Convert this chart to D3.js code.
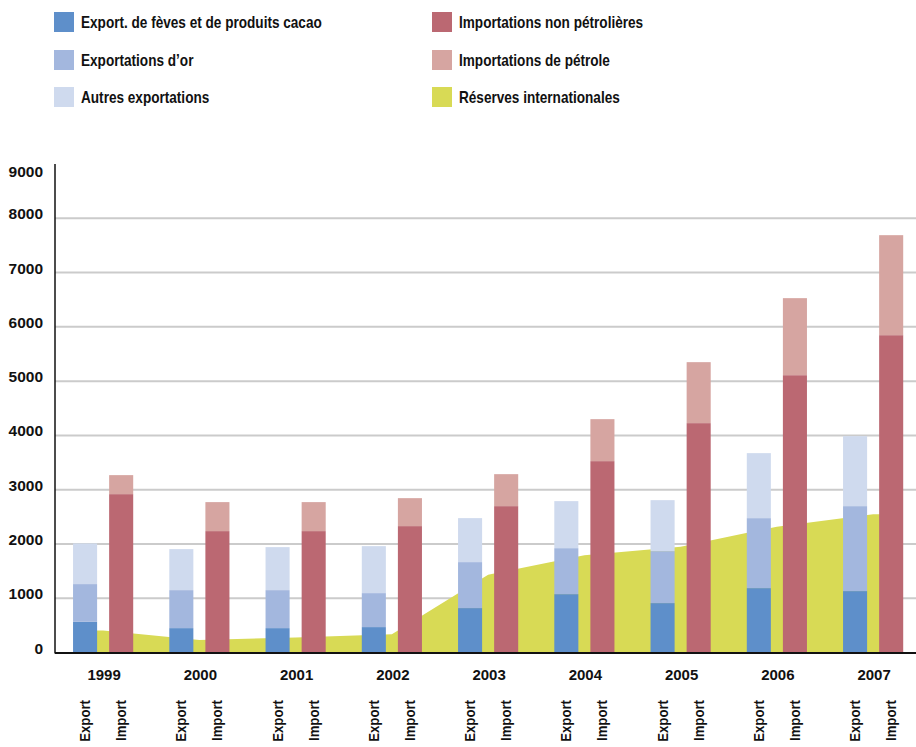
<!DOCTYPE html>
<html>
<head>
<meta charset="utf-8">
<script src="https://cdn.jsdelivr.net/npm/d3@7"></script>
<style>
  body { margin: 0; background: #fff; }
  svg { display: block; }
  .num, .lbl { font-family: "Liberation Sans", Arial, sans-serif; font-weight: bold; fill: #111; }
</style>
</head>
<body>
<svg id="chart" width="916" height="747"></svg>
<script>
const years = ["1999", "2000", "2001", "2002", "2003", "2004", "2005", "2006", "2007"];
const flows = ["Export", "Import"];
const cacaoExports = [567, 451, 451, 470, 820, 1077, 912, 1188, 1133];
const goldExports = [695, 700, 700, 626, 847, 847, 957, 1289, 1565];
const otherExports = [749, 755, 792, 865, 810, 866, 939, 1197, 1289];
const nonOilImports = [2919, 2238, 2238, 2330, 2698, 3527, 4227, 5110, 5847];
const oilImports = [350, 534, 534, 515, 589, 773, 1123, 1419, 1842];
const reserves = [405, 230, 280, 337, 1435, 1795, 1952, 2320, 2550];
const yTicks = [0, 1000, 2000, 3000, 4000, 5000, 6000, 7000, 8000, 9000];

const legendItems = [
  { label: "Export. de fèves et de produits cacao", color: "#5e8fca" },
  { label: "Exportations d\u2019or", color: "#a3b7de" },
  { label: "Autres exportations", color: "#cfdaee" },
  { label: "Importations non pétrolières", color: "#bb6872" },
  { label: "Importations de pétrole", color: "#d6a5a1" },
  { label: "Réserves internationales", color: "#d8da55" },
];

(function () {
  const svg = d3.select("#chart");
  const left = 55;
  const step = 96.25;
  const top = 164;
  const bottom = 652.6;
  const narrow = 0.85; // the original face is a condensed one

  const x = d3.scaleBand()
    .domain(years)
    .range([left, left + step * years.length]);

  const xFlow = d3.scaleBand()
    .domain(flows)
    .range([0, x.bandwidth()])
    .paddingInner(1 / 3)
    .paddingOuter(0.5);

  const y = d3.scaleLinear()
    .domain([0, 9000])
    .range([bottom, top]);

  const rows = years.map((yr, i) => ({
    year: yr,
    cacao: cacaoExports[i],
    gold: goldExports[i],
    other: otherExports[i],
    nonOil: nonOilImports[i],
    oil: oilImports[i],
    reserves: reserves[i],
  }));

  // gridlines
  svg.append("g")
    .selectAll("line")
    .data(yTicks.filter((t) => t > 0 && t < 9000))
    .enter()
    .append("line")
    .attr("x1", left)
    .attr("x2", 916)
    .attr("y1", (d) => y(d))
    .attr("y2", (d) => y(d))
    .attr("stroke", "#cbcbcb")
    .attr("stroke-width", 2);

  // reserves area, points at year centres, held flat out to the outer bars
  const first = rows[0];
  const last = rows[rows.length - 1];
  const areaPts = [{ px: x(first.year) + xFlow("Export") + xFlow.bandwidth() / 2, v: first.reserves }]
    .concat(rows.map((d) => ({ px: x(d.year) + x.bandwidth() / 2, v: d.reserves })))
    .concat([{ px: x(last.year) + xFlow("Import") + xFlow.bandwidth() / 2, v: last.reserves }]);

  svg.append("path")
    .datum(areaPts)
    .attr("fill", legendItems[5].color)
    .attr("d", d3.area()
      .x((d) => d.px)
      .y0(y(0))
      .y1((d) => y(d.v)));

  // stacked bars
  const exportStack = d3.stack().keys(["cacao", "gold", "other"])(rows);
  const importStack = d3.stack().keys(["nonOil", "oil"])(rows);
  const exportColors = legendItems.slice(0, 3).map((d) => d.color);
  const importColors = legendItems.slice(3, 5).map((d) => d.color);

  function drawStack(stack, flow, colors) {
    svg.append("g")
      .selectAll("g")
      .data(stack)
      .enter()
      .append("g")
      .attr("fill", (d, i) => colors[i])
      .selectAll("rect")
      .data((d) => d)
      .enter()
      .append("rect")
      .attr("x", (d) => x(d.data.year) + xFlow(flow))
      .attr("width", xFlow.bandwidth())
      .attr("y", (d) => y(d[1]))
      .attr("height", (d) => y(d[0]) - y(d[1]));
  }
  drawStack(exportStack, "Export", exportColors);
  drawStack(importStack, "Import", importColors);

  // axes
  svg.append("line")
    .attr("x1", left)
    .attr("x2", left)
    .attr("y1", top)
    .attr("y2", bottom + 1)
    .attr("stroke", "#111")
    .attr("stroke-width", 1.5);

  svg.append("line")
    .attr("x1", left)
    .attr("x2", 916)
    .attr("y1", bottom + 0.5)
    .attr("y2", bottom + 0.5)
    .attr("stroke", "#111")
    .attr("stroke-width", 2);

  svg.append("g")
    .selectAll("text")
    .data(yTicks)
    .enter()
    .append("text")
    .attr("class", "num")
    .attr("x", 43)
    .attr("y", (d) => Math.max(y(d) - 4.6, 171))
    .attr("dy", "0.36em")
    .attr("text-anchor", "end")
    .style("font-size", "15.5px")
    .text((d) => d);

  svg.append("g")
    .selectAll("text")
    .data(years)
    .enter()
    .append("text")
    .attr("class", "num")
    .attr("x", (d) => x(d) + x.bandwidth() / 2 + 1)
    .attr("y", 680)
    .attr("text-anchor", "middle")
    .style("font-size", "15px")
    .text((d) => d);

  const flowLabels = [];
  years.forEach((yr) => flows.forEach((f) => flowLabels.push({ year: yr, flow: f })));

  svg.append("g")
    .selectAll("text")
    .data(flowLabels)
    .enter()
    .append("text")
    .attr("class", "num")
    .attr("transform", (d) => {
      const cx = x(d.year) + xFlow(d.flow) + xFlow.bandwidth() / 2;
      return `translate(${cx + 5}, 700) rotate(-90) scale(0.88, 1)`;
    })
    .attr("text-anchor", "end")
    .style("font-size", "15px")
    .text((d) => d.flow);

  // legend
  const legend = svg.append("g")
    .selectAll("g")
    .data(legendItems)
    .enter()
    .append("g")
    .attr("transform", (d, i) => `translate(${i < 3 ? 54 : 432}, ${[12, 50, 87][i % 3]})`);

  legend.append("rect")
    .attr("width", 20)
    .attr("height", 20)
    .attr("fill", (d) => d.color);

  legend.append("text")
    .attr("class", "lbl")
    .attr("transform", `translate(27, 10) scale(${narrow}, 1)`)
    .attr("dy", "0.36em")
    .style("font-size", "16px")
    .text((d) => d.label);
})();
</script>
</body>
</html>
